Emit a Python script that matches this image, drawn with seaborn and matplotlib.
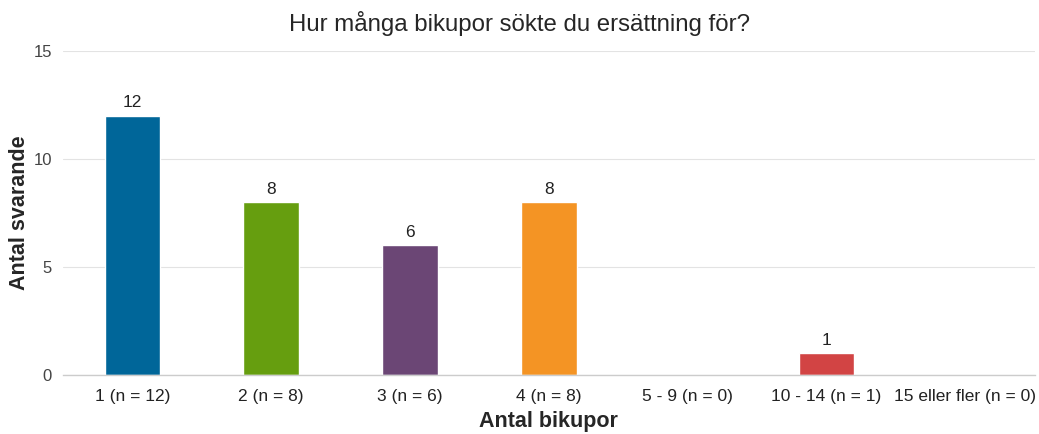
import matplotlib
matplotlib.use("Agg")
import matplotlib.pyplot as plt
import seaborn as sns
import pandas as pd

categories = ["1 (n = 12)", "2 (n = 8)", "3 (n = 6)", "4 (n = 8)",
              "5 - 9 (n = 0)", "10 - 14 (n = 1)", "15 eller fler (n = 0)"]
counts = [12, 8, 6, 8, 0, 1, 0]
colors = ["#006699", "#669e0f", "#6b4675", "#f49424", "#999999", "#d24444", "#999999"]

sns.set_theme(style="whitegrid")
plt.rcParams['font.family'] = ['Liberation Sans', 'DejaVu Sans']

df = pd.DataFrame({"kategori": categories, "antal": counts})

fig = plt.figure(figsize=(10.39, 4.34), dpi=100)
ax = fig.add_axes([0.0606, 0.136, 0.9354, 0.7465])

sns.barplot(data=df, x="kategori", y="antal", hue="kategori",
            palette=colors, width=0.4, legend=False, saturation=1, ax=ax)

for cont, v in zip(ax.containers, counts):
    if v > 0:
        ax.bar_label(cont, labels=[str(v)], padding=4, fontsize=12.5, color="#222222")

ax.set_ylim(0, 15)
ax.set_xlim(-0.5, 6.5)
ax.set_yticks([0, 5, 10, 15])
ax.grid(axis="x", visible=False)
ax.grid(axis="y", color="#e3e3e3", linewidth=0.8)
for s in ["top", "right", "left"]:
    ax.spines[s].set_visible(False)
ax.spines["bottom"].set_color("#cccccc")
ax.spines["bottom"].set_linewidth(1)
ax.tick_params(axis="x", labelsize=12.5, colors="#222222", pad=10, length=0)
ax.tick_params(axis="y", labelsize=12, colors="#444444", pad=8, length=0)

ax.set_xlabel("Antal bikupor", fontsize=15.5, fontweight="bold", labelpad=5)
ax.set_ylabel("Antal svarande", fontsize=15.5, fontweight="bold")
ax.yaxis.set_label_coords(-0.034, 0.5)
fig.suptitle("Hur många bikupor sökte du ersättning för?", fontsize=17.3, y=0.975)

fig.savefig("out.png", dpi=100)
